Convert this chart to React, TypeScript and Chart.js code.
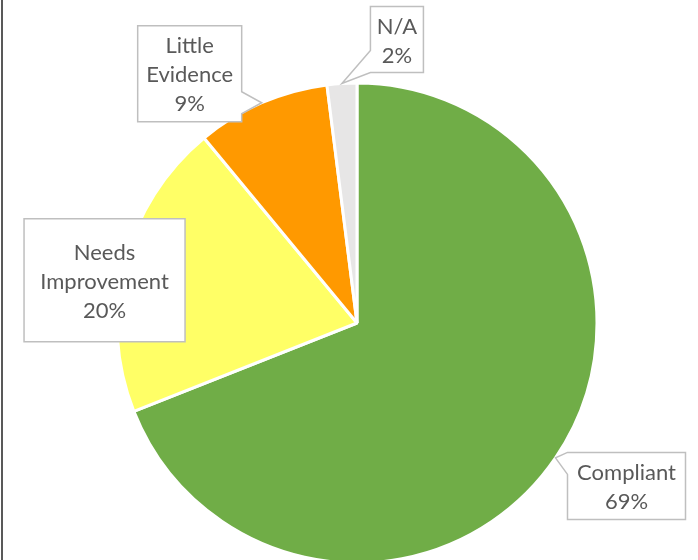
import React, { useEffect, useRef } from "react";
import { Chart, registerables } from "chart.js";

Chart.register(...registerables);

// ---- data ----
const categories = ["Compliant", "Needs Improvement", "Little Evidence", "N/A"];
const values = [69, 20, 9, 2];
const sliceColors = ["#70AD47", "#FFFF66", "#FF9900", "#E7E6E6"];

// ---- callout layout (box centre offset from slice's outer mid-point, box size) ----
const calloutOffsets: number[][] = [[71, 28], [-20, 17], [-72, -29], [55, -44]];
const calloutSizes: number[][] = [[118, 67], [161, 123], [104, 96], [53, 66]];

const FONT = "22px Lato, 'Noto Sans', sans-serif";
const LINE_H = 29;
const TEXT_COLOR = "#595959";
const BOX_STROKE = "#BFBFBF";

const calloutPlugin = {
  id: "callouts",
  beforeDraw(chart: any) {
    const ctx = chart.ctx;
    ctx.save();
    ctx.fillStyle = "#595959";
    ctx.fillRect(1, 0, 2, chart.height);
    ctx.restore();
  },
  afterDatasetsDraw(chart: any) {
    const ctx = chart.ctx;
    const meta = chart.getDatasetMeta(0);
    const total = values.reduce((a, b) => a + b, 0);
    meta.data.forEach((arc: any, i: number) => {
      const p = arc.getProps(["x", "y", "startAngle", "endAngle", "outerRadius"], true);
      const mid = (p.startAngle + p.endAngle) / 2;
      const tx = p.x + Math.cos(mid) * p.outerRadius;
      const ty = p.y + Math.sin(mid) * p.outerRadius;
      const [w, h] = calloutSizes[i];
      const cx = tx + calloutOffsets[i][0];
      const cy = ty + calloutOffsets[i][1];
      const l = cx - w / 2, r = cx + w / 2, t = cy - h / 2, b = cy + h / 2;
      const half = 11;
      const clamp = (v: number, lo: number, hi: number) => Math.max(lo, Math.min(hi, v));

      ctx.save();
      ctx.beginPath();
      ctx.moveTo(l, t);
      // top edge
      if (ty < t && tx >= l && tx <= r) {
        const c = clamp(tx, l + half, r - half);
        ctx.lineTo(c - half, t); ctx.lineTo(tx, ty); ctx.lineTo(c + half, t);
      }
      ctx.lineTo(r, t);
      // right edge
      if (tx > r) {
        const c = clamp(ty, t + half, b - half);
        ctx.lineTo(r, c - half); ctx.lineTo(tx, ty); ctx.lineTo(r, c + half);
      }
      ctx.lineTo(r, b);
      // bottom edge
      if (ty > b && tx >= l && tx <= r) {
        const c = clamp(tx, l + half, r - half);
        ctx.lineTo(c + half, b); ctx.lineTo(tx, ty); ctx.lineTo(c - half, b);
      }
      ctx.lineTo(l, b);
      // left edge
      if (tx < l) {
        const c = clamp(ty, t + half, b - half);
        ctx.lineTo(l, c + half); ctx.lineTo(tx, ty); ctx.lineTo(l, c - half);
      }
      ctx.closePath();
      ctx.fillStyle = "#FFFFFF";
      ctx.fill();
      ctx.lineWidth = 1.5;
      ctx.strokeStyle = BOX_STROKE;
      ctx.stroke();

      const lines = [...categories[i].split(" "), Math.round((values[i] / total) * 100) + "%"];
      ctx.font = FONT;
      ctx.fillStyle = TEXT_COLOR;
      ctx.textAlign = "center";
      ctx.textBaseline = "middle";
      const startY = cy + 1.5 - ((lines.length - 1) * LINE_H) / 2;
      lines.forEach((s, k) => ctx.fillText(s, cx, startY + k * LINE_H));
      ctx.restore();
    });
  },
};

export default function App() {
  const ref = useRef<HTMLCanvasElement | null>(null);
  useEffect(() => {
    if (!ref.current) return;
    const chart = new Chart(ref.current, {
      type: "pie",
      data: {
        labels: categories,
        datasets: [
          {
            data: values,
            backgroundColor: sliceColors,
            borderColor: "#FFFFFF",
            borderWidth: 3,
            radius: 240,
            clip: false,
          } as any,
        ],
      },
      options: {
        animation: false,
        responsive: false,
        layout: { padding: { left: 16, top: 86, right: 0, bottom: 0 } },
        plugins: { legend: { display: false }, tooltip: { enabled: false } },
      },
      plugins: [calloutPlugin],
    });
    return () => chart.destroy();
  }, []);
  return (
    <div
      style={{
        position: "fixed",
        left: 0,
        top: 0,
        width: 698,
        height: 560,
        overflow: "hidden",
        background: "#fff",
      }}
    >
      <canvas ref={ref} width={698} height={560} style={{ width: 698, height: 560, display: "block" }} />
    </div>
  );
}
